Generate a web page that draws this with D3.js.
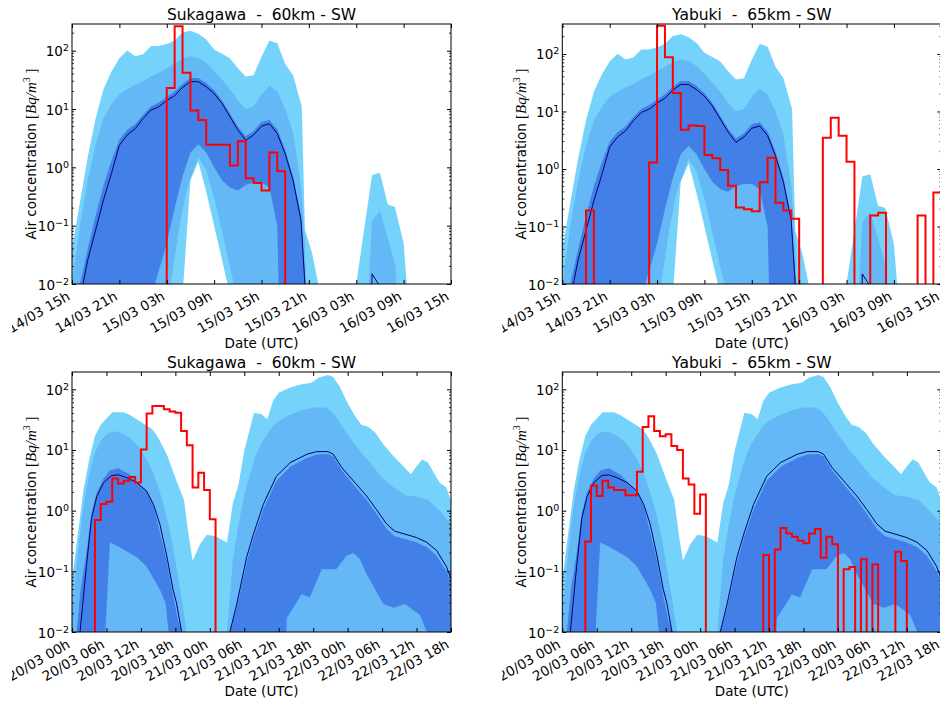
<!DOCTYPE html>
<html>
<head>
<meta charset="utf-8">
<script src="https://cdn.jsdelivr.net/npm/d3@7/dist/d3.min.js"></script>
<style>
  html, body { margin: 0; padding: 0; background: #fff; }
  svg { display: block; }
</style>
</head>
<body>
<svg id="fig" width="940" height="702"></svg>
<script>
// ================= DATA =================
const titles = ["Sukagawa  -  60km - SW", "Yabuki  -  65km - SW", "Sukagawa  -  60km - SW", "Yabuki  -  65km - SW"];
const topStart = "2011-03-14T15:00:00Z";
const bottomStart = "2011-03-20T00:00:00Z";
const topSpanHours = 48;
const bottomSpanHours = 66;
const topTickLabels = ["14/03 15h","14/03 21h","15/03 03h","15/03 09h","15/03 15h","15/03 21h","16/03 03h","16/03 09h","16/03 15h"];
const bottomTickLabels = ["20/03 00h","20/03 06h","20/03 12h","20/03 18h","21/03 00h","21/03 06h","21/03 12h","21/03 18h","22/03 00h","22/03 06h","22/03 12h","22/03 18h"];
const yTickValues = [0.01, 0.1, 1, 10, 100];
const yTickExponents = ["\u22122", "\u22121", "0", "1", "2"];
const yMaxes = [287, 332, 193, 193];

// ---- ensemble, 14/03 15h - 16/03 15h (hours from start) ----
const topEnvMaxH = [0,1,2,3,4,5,6,7,8,9,10,11,12,13,14,15,16,17,18,19,20,21,22,23,24,25,26,27,28,29.1,29.5,30.4,31.2,31.6,35.8,36,38,39,40,40.9,42,42.4,42.8,48];
const topEnvMaxV = [0.04,0.25,1.5,7,22,44,74,101,80,87,120,120,130,150,205,220,195,155,105,89,74,50,36,38,79,150,134,60,38,11,0.085,0.034,0.01,0,0,0.01,0.74,0.81,0.23,0.21,0.05,0.01,0,0];
const topEnvMinH = [0,14,14.1,15,16,17,18,19,19.7,20,48];
const topEnvMinV = [0,0,0.01,0.6,1.25,0.38,0.1,0.026,0.01,0,0];
const topSpreadHiH = [0,1,2,3,4,5,6,7,8,9,10,11,12,13,14,15,16,17,18,19,20,21,22,23,24,25,26,27,28,29,29.5,30,36.8,38,39,40,41,41.6,48];
const topSpreadHiV = [0.01,0.1,0.6,2.5,7,12,18,22,26,30,36,42,50,60,72,80,75,62,45,32,22,14,10,11,18,25,20,10,4,0.5,0.05,0,0,0.12,0.18,0.06,0.02,0,0];
const topSpreadLoH = [0,12.5,13.5,14.5,15.5,16,17,18,19,20,20.5,21,48];
const topSpreadLoV = [0,0.01,0.08,0.4,1.0,1.5,0.9,0.3,0.08,0.02,0.01,0,0];
const topCoreHiH = [0,1,2,3,4,5,6,7,8,9,10,11,12,13,14,15,16,17,18,19,20,21,22,23,24,25,26,27,28,29,29.6,30,48];
const topCoreHiV = [0,0.01,0.04,0.15,0.5,1.3,3.0,4.4,5.5,8,11,13,16,20,27,34,34,28,21,14,8.5,5,3.4,4.2,6,6.5,4.5,2.0,0.7,0.15,0.01,0,0];
const topCoreLoH = [0,10,10.5,12,13,14,15,16,17,18,19,20,21,22,23,24,25,26,26.5,48];
const topCoreLoV = [0,0,0.01,0.05,0.2,0.7,1.8,2.5,1.8,1.0,0.6,0.45,0.4,0.5,0.55,0.55,0.45,0.1,0,0];
const topMedianH = [1.4,2,3,4,5,6,7,8,9,10,11,12,13,14,15,16,17,18,19,20,21,22,23,24,25,26,27,28,29,29.5,30,37.7,38,38.8,39.2];
const topMedianV = [0.01,0.026,0.085,0.28,0.79,2.4,3.6,4.6,6.9,9.6,11,14,17,23.5,29.5,29.5,24,18.5,12.5,7.4,4.4,2.9,3.6,5.1,5.6,3.8,1.7,0.6,0.125,0.01,0,0,0.015,0.01,0];

// ---- ensemble, 20/03 00h - 22/03 18h (hours from start) ----
const botEnvMaxH = [0,1,2,3,4,5,7,9,10,12,14,15,16.5,18,19.5,20.3,21,22.3,23.5,25,27,28,29,30,31.7,33,34,35,36,38,40,41.7,43,44.6,45.5,46.7,47.8,49.3,50.4,51.6,52.8,54.2,56,57.7,59,60,61,62,63,64,65.2,66];
const botEnvMaxV = [0.07,0.4,2.2,7,17,26,42,42,38,29,22,16,8.5,3.5,1.5,0.4,0.15,0.28,0.40,0.38,0.30,1.3,2.7,9.6,41,39,32,64,88,107,121,128,156,173,160,107,64,36,26,24,19.5,12.4,7.9,5.4,4.0,5.4,7.0,6.2,4.2,2.9,2.4,1.45];
const botEnvMinH = [0,66];
const botEnvMinV = [0,0];
const botSpreadHiH = [0,1,2,3,4,5,6,7,8,9,10,11,12,13,14,15,16,17,18,19,20,20.5,27,28,29,30,31,32,33,34,35,36,38,40,42,44,45,46,47,48,50,52,54,56,58,60,62,64,66];
const botSpreadHiV = [0.02,0.2,1.2,4,9,14,18,20,20,18,16,13,10,7,4.5,2.5,1.2,0.5,0.15,0.04,0.01,0,0.01,0.15,0.6,1.8,4,8,13,18,25,30,38,45,50,50,45,35,25,18,10,6,3.5,2.4,1.8,1.7,1.5,1.0,0.6];
const botSpreadLoH = [0,66];
const botSpreadLoV = [0,0];
const botCoreHiH = [0,0.8,1.5,2.5,3.4,4.3,5.5,6.6,8.1,10.1,11.3,13,14.2,15.3,16.5,17.6,18.5,19.2,19.6,27.2,27.5,28.7,30.4,31.6,33.3,35.6,38,40.9,42.6,44.6,45.5,47,49,51.3,53,54.8,56.2,58,60,61.8,63.5,65.2,66];
const botCoreHiV = [0,0.01,0.05,0.2,0.9,2.0,3.4,4.6,5.0,3.9,3.0,2.1,1.2,0.45,0.15,0.04,0.015,0.01,0,0,0.01,0.025,0.14,0.35,1.05,3.1,5.3,7.4,8.4,8.6,7.8,4.6,2.7,1.5,0.9,0.5,0.38,0.34,0.3,0.25,0.18,0.1,0.065];
const botCoreLoH = [0,5.5,5.8,6.6,8,11.3,13,15.3,16.3,16.8,17,36.5,37.4,40,41.4,43.5,46,47.8,49,50.1,51.3,54.2,56,58,60.6,61.8,62.3,66];
const botCoreLoV = [0,0,0.01,0.3,0.26,0.17,0.12,0.05,0.03,0.01,0,0,0.017,0.042,0.037,0.108,0.108,0.18,0.2,0.16,0.09,0.029,0.025,0.029,0.019,0.01,0,0];
const botMedianH = [0,1.4,2.5,3.4,4.3,5.5,6.9,8.1,9.5,11.3,13,14.2,15.3,16.5,17.6,18.2,19.1,19.5,27,27.5,28.7,30.4,31.6,33.3,35.6,38,40.9,42.6,44.6,45.5,47,49,51.3,53,54.8,56.2,58,60,61.8,63.5,65.2,66];
const botMedianV = [0,0.01,0.12,0.75,1.7,2.9,3.8,3.9,3.5,2.9,2.1,1.26,0.6,0.18,0.05,0.03,0.01,0,0,0.01,0.029,0.17,0.41,1.26,3.7,6.2,8.5,9.4,9.4,8.5,5.1,3.1,1.74,1.05,0.6,0.46,0.41,0.36,0.3,0.22,0.12,0.075];

// ---- hourly observations (0 = below detection) ----
const obsSukagawaMar14 = [0,0,0,0,0,0,0,0,0,0,0,0,23,263,42,9.4,6.5,2.45,2.45,2.45,1.08,2.8,0.65,0.54,0.40,1.8,0.86,0,0,0,0,0,0,0,0,0,0,0,0,0,0,0,0,0,0,0,0,0,0];
const obsYabukiMar14 = [0,0,0,0.19,0,0,0,0,0,0,0,1.3,310,88,21,4.8,5.7,5.6,1.75,1.53,0.96,0.51,0.215,0.2,0.185,0.59,1.57,0.26,0.19,0.137,0,0,0,3.5,7.8,3.8,1.34,0,0,0.155,0.174,0,0,0,0,0.156,0,0.39,0.39];
const obsSukagawaMar20 = [0,0,0,0,0.70,1.29,1.40,3.4,2.8,3.1,3.6,2.9,10.2,40,53,53,47,43,41,20.5,12,2.4,4.2,2.2,0.72,0,0,0,0,0,0,0,0,0,0,0,0,0,0,0,0,0,0,0,0,0,0,0,0,0,0,0,0,0,0,0,0,0,0,0,0,0,0,0,0,0,0];
const obsYabukiMar20 = [0,0,0,0,0.31,2.6,1.75,3.1,2.4,2.2,2.2,1.8,1.8,4.4,24,36,20.6,16.8,18.1,11.6,10,3.4,2.7,0.89,1.84,0,0,0,0,0,0,0,0,0,0,0.185,0,0.23,0.52,0.42,0.37,0.32,0.29,0.42,0.50,0.168,0.37,0.28,0,0.108,0.118,0,0.158,0,0.13,0,0,0,0.21,0.148,0,0,0,0,0,0,0];

// ================= DRAWING =================
const svg = d3.select("#fig");
svg.append("rect").attr("width", 940).attr("height", 702).attr("fill", "#fff");
const defs = svg.append("defs");
const FONT = "'DejaVu Sans', sans-serif";
const SERIF = "'Liberation Serif', 'DejaVu Serif', serif";
const W = 379, H = 260, FLOOR = 1e-4;
const COLORS = { env: "#74d2fb", spread: "#2450e2", core: "#1a3cd6", median: "#00006e", obs: "#ff0000" };

const topModel = {
  envMaxH: topEnvMaxH, envMaxV: topEnvMaxV, envMinH: topEnvMinH, envMinV: topEnvMinV,
  spreadHiH: topSpreadHiH, spreadHiV: topSpreadHiV, spreadLoH: topSpreadLoH, spreadLoV: topSpreadLoV,
  coreHiH: topCoreHiH, coreHiV: topCoreHiV, coreLoH: topCoreLoH, coreLoV: topCoreLoV,
  medianH: topMedianH, medianV: topMedianV
};
const botModel = {
  envMaxH: botEnvMaxH, envMaxV: botEnvMaxV, envMinH: botEnvMinH, envMinV: botEnvMinV,
  spreadHiH: botSpreadHiH, spreadHiV: botSpreadHiV, spreadLoH: botSpreadLoH, spreadLoV: botSpreadLoV,
  coreHiH: botCoreHiH, coreHiV: botCoreHiV, coreLoH: botCoreLoH, coreLoV: botCoreLoV,
  medianH: botMedianH, medianV: botMedianV
};

const panels = [
  { title: titles[0], start: topStart, hours: topSpanHours, ticks: topTickLabels, yMax: yMaxes[0], model: topModel, obs: obsSukagawaMar14, x0: 72, y0: 24 },
  { title: titles[1], start: topStart, hours: topSpanHours, ticks: topTickLabels, yMax: yMaxes[1], model: topModel, obs: obsYabukiMar14, x0: 562.3, y0: 24 },
  { title: titles[2], start: bottomStart, hours: bottomSpanHours, ticks: bottomTickLabels, yMax: yMaxes[2], model: botModel, obs: obsSukagawaMar20, x0: 72, y0: 372 },
  { title: titles[3], start: bottomStart, hours: bottomSpanHours, ticks: bottomTickLabels, yMax: yMaxes[3], model: botModel, obs: obsYabukiMar20, x0: 562.3, y0: 372 }
];

panels.forEach((p, idx) => {
  const start = new Date(p.start);
  const at = h => new Date(start.getTime() + h * 3600e3);
  const x = d3.scaleUtc().domain([at(0), at(p.hours)]).range([p.x0, p.x0 + W]);
  const y = d3.scaleLog().domain([0.01, p.yMax]).range([p.y0 + H, p.y0]);
  const pt = (h, v) => [x(at(h)), y(Math.max(v, FLOOR))];
  const line = d3.line();
  const band = (hiH, hiV, loH, loV) => {
    const up = hiH.map((h, i) => pt(h, hiV[i]));
    const dn = loH.map((h, i) => pt(h, loV[i])).reverse();
    return line(up.concat(dn)) + "Z";
  };

  defs.append("clipPath").attr("id", "cut" + idx).append("rect")
    .attr("x", p.x0 - 60).attr("y", p.y0 - 30).attr("width", 1000).attr("height", H + 110);
  defs.append("clipPath").attr("id", "plot" + idx).append("rect")
    .attr("x", p.x0).attr("y", p.y0).attr("width", W).attr("height", H);

  const root = svg.append("g").attr("clip-path", `url(#cut${idx})`);
  const plot = root.append("g").attr("clip-path", `url(#plot${idx})`);
  const m = p.model;

  plot.append("path").attr("d", band(m.envMaxH, m.envMaxV, m.envMinH, m.envMinV)).attr("fill", COLORS.env);
  plot.append("path").attr("d", band(m.spreadHiH, m.spreadHiV, m.spreadLoH, m.spreadLoV))
    .attr("fill", COLORS.spread).attr("fill-opacity", 0.2);
  plot.append("path").attr("d", band(m.coreHiH, m.coreHiV, m.coreLoH, m.coreLoV))
    .attr("fill", COLORS.core).attr("fill-opacity", 0.45);
  plot.append("path").attr("d", line(m.medianH.map((h, i) => pt(h, m.medianV[i]))))
    .attr("fill", "none").attr("stroke", COLORS.median).attr("stroke-width", 1);
  const step = d3.line().curve(d3.curveStepAfter);
  plot.append("path").attr("d", step(p.obs.map((v, i) => pt(i, v))))
    .attr("fill", "none").attr("stroke", COLORS.obs).attr("stroke-width", 2).attr("stroke-linejoin", "miter");

  // frame
  root.append("rect").attr("x", p.x0).attr("y", p.y0).attr("width", W).attr("height", H)
    .attr("fill", "none").attr("stroke", "#000").attr("stroke-width", 1);

  // x axis
  const xTicks = p.ticks.map((_, i) => at(i * 6));
  const xb = root.append("g").attr("transform", `translate(0,${p.y0 + H})`)
    .call(d3.axisBottom(x).tickValues(xTicks).tickFormat((d, i) => p.ticks[i]).tickSizeInner(-4).tickSizeOuter(0));
  xb.select(".domain").remove();
  xb.selectAll(".tick line").attr("stroke", "#000");
  xb.selectAll(".tick text")
    .attr("x", 0).attr("y", 0).attr("dy", 0)
    .attr("text-anchor", "end")
    .attr("transform", "translate(-1.5,15) rotate(-30)")
    .attr("font-family", FONT).attr("font-size", 13.5).attr("fill", "#000");
  const xt = root.append("g").attr("transform", `translate(0,${p.y0})`)
    .call(d3.axisTop(x).tickValues(xTicks).tickFormat("").tickSizeInner(-4).tickSizeOuter(0));
  xt.select(".domain").remove();
  xt.selectAll(".tick line").attr("stroke", "#000");

  // y axis
  const yl = root.append("g").attr("transform", `translate(${p.x0},0)`)
    .call(d3.axisLeft(y).tickValues(yTickValues).tickFormat("").tickSizeInner(-4).tickSizeOuter(0).tickPadding(3));
  yl.select(".domain").remove();
  yl.selectAll(".tick line").attr("stroke", "#000");
  yl.selectAll(".tick text").each(function (d, i) {
    const t = d3.select(this);
    t.text(null).attr("dy", "0.37em").attr("font-family", FONT).attr("font-size", 13.5).attr("fill", "#000");
    t.append("tspan").text("10");
    t.append("tspan").attr("dy", -5).attr("font-size", 9.5).text(yTickExponents[i]);
  });
  const yr = root.append("g").attr("transform", `translate(${p.x0 + W},0)`)
    .call(d3.axisRight(y).tickValues(yTickValues).tickFormat("").tickSizeInner(-4).tickSizeOuter(0));
  yr.select(".domain").remove();
  yr.selectAll(".tick line").attr("stroke", "#000");

  // minor log ticks
  const minor = [];
  for (let k = -2; k <= 2; k++) for (let j = 2; j <= 9; j++) {
    const v = j * Math.pow(10, k);
    if (v < p.yMax) minor.push(v);
  }
  root.append("g").selectAll("line.minl").data(minor).join("line")
    .attr("x1", p.x0).attr("x2", p.x0 + 2).attr("y1", d => y(d)).attr("y2", d => y(d))
    .attr("stroke", "#000").attr("stroke-width", 0.8);
  root.append("g").selectAll("line.minr").data(minor).join("line")
    .attr("x1", p.x0 + W).attr("x2", p.x0 + W - 2).attr("y1", d => y(d)).attr("y2", d => y(d))
    .attr("stroke", "#000").attr("stroke-width", 0.8);

  // title
  root.append("text").attr("x", p.x0 + W / 2).attr("y", p.y0 - 4.5)
    .attr("text-anchor", "middle").attr("font-family", FONT).attr("font-size", 15.5)
    .style("white-space", "pre").text(p.title);

  // x label
  root.append("text").attr("x", p.x0 + W / 2).attr("y", p.y0 + H + 64)
    .attr("text-anchor", "middle").attr("font-family", FONT).attr("font-size", 13.5).text("Date (UTC)");

  // y label
  const yt = root.append("text").attr("transform", `translate(${p.x0 - 36},${p.y0 + H / 2}) rotate(-90)`)
    .attr("text-anchor", "middle").attr("font-family", FONT).attr("font-size", 13.5).style("white-space", "pre");
  yt.append("tspan").text("Air concentration ");
  yt.append("tspan").attr("font-family", SERIF).attr("font-size", 15).text("[");
  yt.append("tspan").attr("font-family", SERIF).attr("font-style", "italic").attr("font-size", 15).text("Bq/m");
  yt.append("tspan").attr("font-family", SERIF).attr("font-size", 10).attr("dy", -6).text("3");
  yt.append("tspan").attr("font-family", SERIF).attr("font-size", 15).attr("dy", 6).text(" ]");
});
</script>
</body>
</html>
